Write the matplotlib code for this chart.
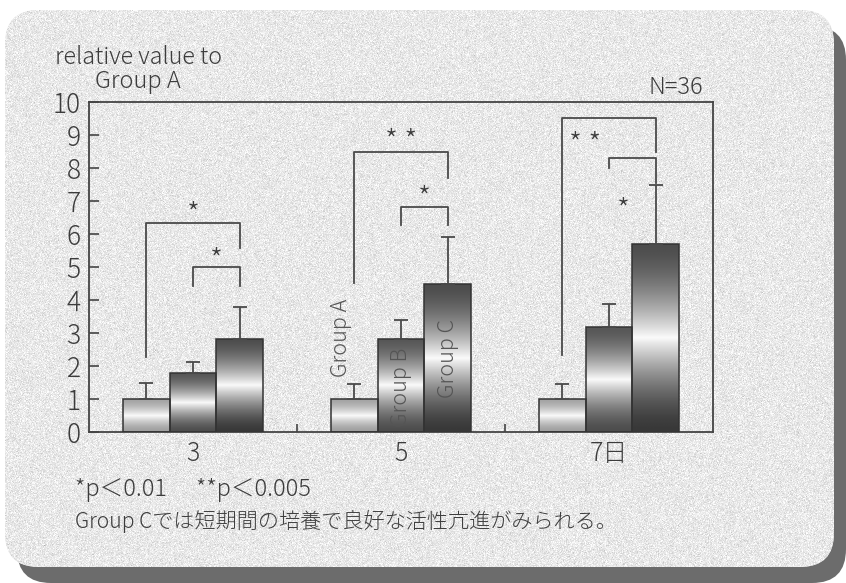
import numpy as np
import matplotlib
matplotlib.use("Agg")
import matplotlib.pyplot as plt
from matplotlib.patches import FancyBboxPatch

plt.rcParams['font.family'] = ['Noto Sans CJK JP', 'DejaVu Sans']
plt.rcParams['font.weight'] = 'light'

# culture days and the three groups
days = ['3', '5', '7日']
groups = ['Group A', 'Group B', 'Group C']

# relative value to Group A (mean) and upper error
means = {
    'Group A': [1.0, 1.0, 1.0],
    'Group B': [1.78, 2.82, 3.18],
    'Group C': [2.82, 4.48, 5.70],
}
errs = {
    'Group A': [0.48, 0.45, 0.44],
    'Group B': [0.34, 0.58, 0.70],
    'Group C': [0.96, 1.42, 1.78],
}

# significance brackets: (day index, left bar, right bar, left foot, top, right foot, mark)
brackets = [
    (0, 0, 2, 2.27, 6.33, 5.58, '*'),
    (0, 1, 2, 4.42, 5.00, 4.42, '*'),
    (1, 0, 2, 4.52, 8.48, 7.70, '* *'),
    (1, 1, 2, 6.27, 6.82, 6.27, '*'),
    (2, 0, 2, 2.33, 9.52, 8.48, '* *'),
    (2, 1, 2, 8.00, 8.30, 7.55, '*'),
]
# where each bracket's star sits: (x offset from day centre, y)
star_pos = [(0.0, 6.55), (0.11, 5.18), (0.0, 8.76), (0.11, 7.06), (-0.115, 8.67), (0.067, 6.70)]

W, H = 846, 583
ink = '#3c3c3c'
line_c = '#4a4a4a'

fig = plt.figure(figsize=(W / 100, H / 100), dpi=100)

# rounded grey panel with drop shadow, drawn in pixel units
bg = fig.add_axes([0, 0, 1, 1], zorder=0)
bg.set_xlim(0, W)
bg.set_ylim(H, 0)
bg.axis('off')
shadow = FancyBboxPatch((17, 26), 829, 557, boxstyle='round,pad=0,rounding_size=34',
                        fc='#6c6c6c', ec='none')
bg.add_patch(shadow)
panel = FancyBboxPatch((5, 10), 829, 557, boxstyle='round,pad=0,rounding_size=34',
                       fc='#e8e8e8', ec='none')
bg.add_patch(panel)
rng = np.random.default_rng(3)
grain = np.clip(0.91 + rng.normal(0, 0.045, (H, W)), 0, 1)
im = bg.imshow(grain, cmap='gray', vmin=0, vmax=1, extent=(0, W, H, 0),
               interpolation='nearest', zorder=2)
im.set_clip_path(panel)

# main chart area
ax = fig.add_axes([89 / W, (H - 432) / H, (713 - 89) / W, (432 - 102) / H], zorder=1)
ax.patch.set_alpha(0)

width = 0.224
x = np.arange(len(days))
offsets = [-width, 0, width]
edge_dark = {'Group A': (0.62, 0.64), 'Group B': (0.30, 0.34), 'Group C': (0.22, 0.30)}

t = np.linspace(0, 1, 200)
for g, off in zip(groups, offsets):
    bars = ax.bar(x + off, means[g], width, facecolor='none', edgecolor='#333333',
                  linewidth=1.1, zorder=3)
    bot_d, top_d = edge_dark[g]
    # shaded fill: dark at top and bottom, white band through the middle
    shade = np.where(t < 0.5,
                     bot_d + (0.98 - bot_d) * (t / 0.5) ** 1.6,
                     top_d + (0.98 - top_d) * ((1 - t) / 0.5) ** 1.6)
    for b in bars:
        x0, h = b.get_x(), b.get_height()
        fill = ax.imshow(shade[:, None], cmap='gray', vmin=0, vmax=1, origin='lower',
                         extent=(x0, x0 + width, 0, h), aspect='auto', zorder=2,
                         interpolation='bilinear')
        fill.set_clip_path(b)
    ax.errorbar(x + off, means[g], yerr=[np.zeros(3), errs[g]], fmt='none',
                ecolor=line_c, elinewidth=1.3, capsize=5, capthick=1.3, zorder=3)

for (d, i, j, yl, yt, yr, mark), (sx, sy) in zip(brackets, star_pos):
    xl, xr = x[d] + offsets[i], x[d] + offsets[j]
    ax.plot([xl, xl, xr, xr], [yl, yt, yt, yr], color=line_c, lw=1.3, zorder=3)
    ax.text(x[d] + sx, sy, mark, ha='center', va='center', fontsize=21, color=ink)

# group names written on the day-5 bars
ax.text(x[1] - width - 0.065, 2.85, 'Group A', rotation=90, ha='center', va='center',
        fontsize=15.5, color='#555555', zorder=4)
ax.text(x[1], 1.36, 'Group B', rotation=90, ha='center', va='center',
        fontsize=15.5, color='#555555', zorder=4)
ax.text(x[1] + width, 2.24, 'Group C', rotation=90, ha='center', va='center',
        fontsize=15.5, color='#555555', zorder=4)

ax.set_xlim(-0.5, 2.5)
ax.set_ylim(0, 10)
ax.set_yticks(range(11))
ax.set_xticks(x)
ax.set_xticklabels(days)
ax.set_xticks([0.5, 1.5], minor=True)
ax.tick_params(axis='y', direction='in', length=7, width=1.2, color='#444444',
               labelsize=19, labelcolor=ink, pad=6)
ax.tick_params(axis='x', which='major', length=0, labelsize=18, labelcolor=ink, pad=6)
ax.tick_params(axis='x', which='minor', direction='in', length=6, width=1.2, color='#444444')
for s in ax.spines.values():
    s.set_color('#444444')
    s.set_linewidth(1.3)

def px_text(px, py, s, **kw):
    fig.text(px / W, 1 - py / H, s, color=ink, **kw)

px_text(55, 58, 'relative value to', fontsize=16.8, va='center', ha='left')
px_text(95, 81, 'Group A', fontsize=17, va='center', ha='left')
px_text(703, 88, 'N=36', fontsize=17, va='center', ha='right')
px_text(75, 489, '*p＜0.01　 **p＜0.005', fontsize=17, va='center', ha='left')
px_text(75, 521, 'Group Cでは短期間の培養で良好な活性亢進がみられる。', fontsize=15.2,
        va='center', ha='left')

fig.savefig('out.png', dpi=100)
